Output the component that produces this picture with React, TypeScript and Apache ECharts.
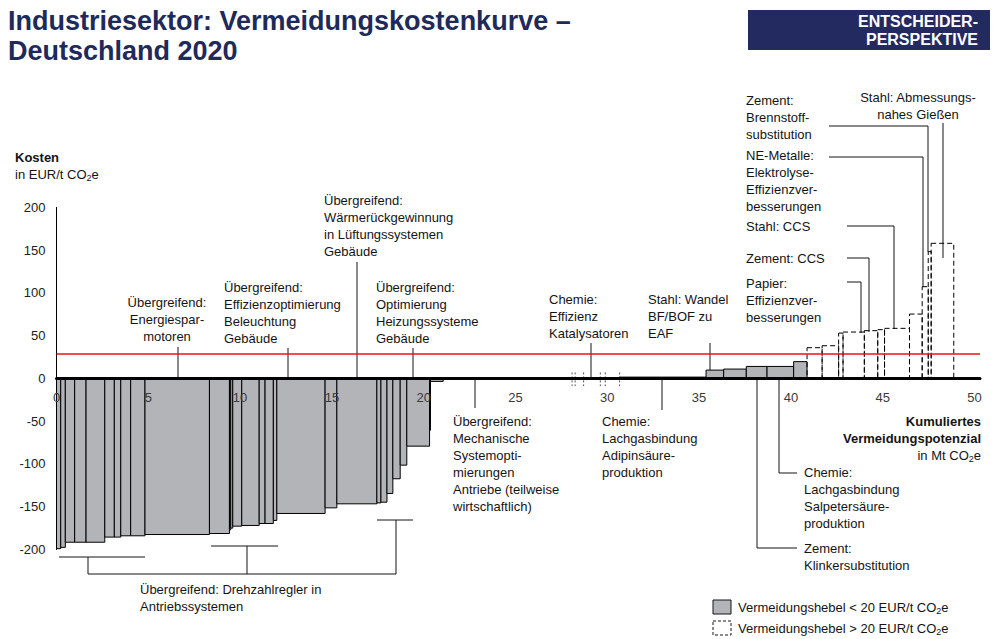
import React, { useEffect, useRef } from "react";
import * as echarts from "echarts";

// ---- Data ----
// Abatement potential of each lever (Mt CO2e), in order along the curve
const leverWidths = [
  0.23, 0.25, 0.51, 0.62, 1.02, 0.52, 0.35, 0.54, 0.78, 3.51, 1.09, 0.07, 0.11, 0.49, 0.95,
  0.32, 0.45, 0.19, 2.63, 0.64, 2.18, 0.22, 0.33, 0.32, 0.4, 0.36, 1.24, 0.05, 0.69,
  9.61,
  4.71, 0.96, 1.23, 1.13, 1.45, 0.73,
  0.82, 0.9, 0.24, 1.16, 0.73, 0.37, 1.36, 0.69, 0.33, 0.16, 1.23,
];
// Abatement cost of each lever (EUR/t CO2e)
const leverCosts = [
  -199, -197.5, -191.5, -191.5, -191.5, -185.5, -185.5, -184, -184, -182.5, -181.3, -177, -175,
  -172.7, -171.9, -169.6, -169.6, -166, -157.9, -151.3, -146.6, -145.5, -144.7, -134.5, -117.3,
  -101.4, -79.2, -60.5, -3.5,
  0,
  1.5, 9.7, 10.9, 14, 14, 19.6,
  35.9, 38.2, 53, 54.2, 55.8, 57, 58.5, 75.2, 107.2, 148.2, 157.9,
];
// Very small levers drawn as short dashed strokes on the axis (Mt CO2e)
const tinyLeverX = [28.08, 28.25, 28.71, 29.62, 29.89, 30.67];
const costThreshold = 20; // legend split: solid < 20, dashed > 20
const redLineCost = 29;
const yTicks = { min: -200, max: 200, step: 50 };
const xTickLabels = [0, 5, 10, 15, 20, 25, 30, 35, 40, 45, 50];

const FONT = "'Liberation Sans', Arial, Helvetica, sans-serif";
const INK = "#141414";
const GREY = "#b2b4b8";

function buildBars() {
  let cum = 0;
  return leverWidths.map((w, i) => {
    const s = cum;
    cum += w;
    return [s, cum, leverCosts[i]];
  });
}

const sub = { fontSize: 9, verticalAlign: "bottom", lineHeight: 11, fontFamily: FONT, fill: INK };

function txt(x: number, firstLineY: number, lines: string[], align = "left", extra: any = {}) {
  return {
    type: "text",
    x,
    y: firstLineY - 8.5,
    silent: true,
    style: {
      text: lines.join("\n"),
      fontSize: 13,
      lineHeight: 17,
      fontFamily: FONT,
      fill: INK,
      align,
      verticalAlign: "top",
      rich: { s: sub },
      ...extra,
    },
  };
}

function ln(pts: number[][], w = 1) {
  return {
    type: "polyline",
    silent: true,
    shape: { points: pts },
    style: { stroke: INK, lineWidth: w, fill: "none" },
  };
}

export default function App() {
  const ref = useRef<HTMLDivElement>(null);
  useEffect(() => {
    if (!ref.current) return;
    const chart = echarts.init(ref.current, undefined, { renderer: "svg" });
    const bars = buildBars();
    const gridLeft = 56.5;
    const unit = 18.36;
    const xMaxShown = 50.3;

    const graphic: any[] = [
      // Title
      {
        type: "text",
        x: 8,
        y: 6,
        silent: true,
        style: {
          text: "Industriesektor: Vermeidungskostenkurve –\nDeutschland 2020",
          fontSize: 27,
          lineHeight: 30,
          fontWeight: "bold",
          fontFamily: FONT,
          fill: "#1e2a5a",
        },
      },
      { type: "rect", shape: { x: 748, y: 10, width: 242, height: 40 }, style: { fill: "#232a5f" } },
      {
        type: "text",
        x: 978,
        y: 12,
        style: {
          text: "ENTSCHEIDER-\nPERSPEKTIVE",
          fontSize: 16,
          lineHeight: 18,
          fontWeight: "bold",
          fontFamily: FONT,
          fill: "#ffffff",
          align: "right",
          verticalAlign: "top",
        },
      },
      // Axis titles
      txt(15, 157, ["Kosten"], "left", { fontWeight: "bold" }),
      txt(15, 174, ["in EUR/t CO{s|2}e"]),
      txt(981, 421, ["Kumuliertes", "Vermeidungspotenzial"], "right", { fontWeight: "bold" }),
      txt(981, 455, ["in Mt CO{s|2}e"], "right"),

      // Top labels
      txt(167, 302, ["Übergreifend:", "Energiespar-", "motoren"], "center"),
      ln([[178, 347], [178, 400]]),
      txt(224, 287, ["Übergreifend:", "Effizienzoptimierung", "Beleuchtung", "Gebäude"]),
      ln([[288, 348], [288, 400]]),
      txt(324, 200, ["Übergreifend:", "Wärmerückgewinnung", "in Lüftungssystemen", "Gebäude"]),
      ln([[357, 262], [357, 400]]),
      txt(376, 287, ["Übergreifend:", "Optimierung", "Heizungssysteme", "Gebäude"]),
      ln([[413, 348], [413, 398]]),
      txt(549, 299, ["Chemie:", "Effizienz", "Katalysatoren"]),
      ln([[591, 343], [591, 378]]),
      txt(648, 299, ["Stahl: Wandel", "BF/BOF zu", "EAF"]),
      ln([[710, 343], [710, 371]]),

      // Upper right labels
      txt(746, 100, ["Zement:", "Brennstoff-", "substitution"]),
      ln([[829, 126], [928, 126], [928, 252]]),
      txt(918, 97, ["Stahl: Abmessungs-", "nahes Gießen"], "center"),
      ln([[943, 123], [943, 258]]),
      txt(746, 155, ["NE-Metalle:", "Elektrolyse-", "Effizienzver-", "besserungen"]),
      ln([[829, 157], [923, 157], [923, 287]]),
      txt(746, 226, ["Stahl: CCS"]),
      ln([[847, 226], [894, 226], [894, 329]]),
      txt(746, 258, ["Zement: CCS"]),
      ln([[847, 258], [869, 258], [869, 332]]),
      txt(746, 283, ["Papier:", "Effizienzver-", "besserungen"]),
      ln([[847, 282], [861, 282], [861, 333]]),

      // Lower labels
      txt(453, 421, [
        "Übergreifend:",
        "Mechanische",
        "Systemopti-",
        "mierungen",
        "Antriebe (teilweise",
        "wirtschaftlich)",
      ]),
      ln([[475, 380], [475, 408]]),
      txt(602, 421, ["Chemie:", "Lachgasbindung", "Adipinsäure-", "produktion"]),
      ln([[662, 380], [662, 410]]),
      txt(804, 472, ["Chemie:", "Lachgasbindung", "Salpetersäure-", "produktion"]),
      ln([[779, 380], [779, 473], [797, 473]]),
      txt(804, 548, ["Zement:", "Klinkersubstitution"]),
      ln([[757, 380], [757, 548], [797, 548]]),

      // Bracket
      txt(140, 589, ["Übergreifend: Drehzahlregler in", "Antriebssystemen"]),
      ln([[59, 557], [145, 557]]),
      ln([[88, 557], [88, 574], [396, 574], [396, 520]]),
      ln([[377, 520], [413, 520]]),
      ln([[211, 546], [278, 546]]),
      ln([[247, 546], [247, 574]]),

      // Legend
      { type: "rect", shape: { x: 713, y: 600, width: 18, height: 14 }, style: { fill: GREY, stroke: INK, lineWidth: 1 } },
      txt(738, 607, ["Vermeidungshebel < 20 EUR/t CO{s|2}e"]),
      {
        type: "rect",
        shape: { x: 713, y: 621, width: 18, height: 14 },
        style: { fill: "none", stroke: INK, lineWidth: 1, lineDash: [3, 2] },
      },
      txt(738, 628, ["Vermeidungshebel > 20 EUR/t CO{s|2}e"]),
    ];

    chart.setOption({
      animation: false,
      grid: {
        left: gridLeft,
        right: 993 - gridLeft - xMaxShown * unit,
        top: 207.3,
        bottom: 89.5,
        containLabel: false,
      },
      xAxis: {
        type: "value",
        min: 0,
        max: xMaxShown,
        interval: 5,
        z: 10,
        axisLine: { onZero: true, lineStyle: { color: "#000", width: 3 } },
        axisTick: { show: false },
        splitLine: { show: false },
        axisLabel: { show: false },
      },
      yAxis: {
        type: "value",
        min: yTicks.min,
        max: yTicks.max,
        interval: yTicks.step,
        axisLine: { show: true, onZero: false, lineStyle: { color: "#000", width: 1 } },
        axisTick: { show: false },
        splitLine: { show: false },
        axisLabel: { margin: 11, fontSize: 13, color: "#222", fontFamily: FONT },
      },
      series: [
        {
          type: "custom",
          name: "levers",
          silent: true,
          data: buildBars(),
          encode: { x: [0, 1], y: 2 },
          renderItem: (params: any, api: any) => {
            const x0 = api.value(0);
            const x1 = api.value(1);
            const c = api.value(2);
            const a = api.coord([x0, 0]);
            const b = api.coord([x1, c]);
            const dashed = c > costThreshold;
            return {
              type: "rect",
              shape: {
                x: a[0],
                y: Math.min(a[1], b[1]),
                width: Math.max(b[0] - a[0], 0.5),
                height: Math.abs(b[1] - a[1]),
              },
              style: {
                fill: dashed ? "none" : GREY,
                stroke: "#000",
                lineWidth: 1,
                lineDash: dashed ? [5, 3] : null,
              },
            };
          },
          markLine: {
            silent: true,
            symbol: "none",
            label: { show: false },
            lineStyle: { color: "#ee1111", width: 1.5, type: "solid" },
            data: [{ yAxis: redLineCost }],
          },
        },
        {
          type: "custom",
          name: "tiny",
          silent: true,
          data: tinyLeverX.map((x) => [x]),
          renderItem: (params: any, api: any) => {
            const x = api.value(0);
            const a = api.coord([x, 7]);
            const b = api.coord([x, -9]);
            return {
              type: "line",
              shape: { x1: a[0], y1: a[1], x2: b[0], y2: b[1] },
              style: { stroke: "#555", lineWidth: 1, lineDash: [2, 2] },
            };
          },
        },
        {
          type: "custom",
          name: "xlabels",
          silent: true,
          z: 20,
          data: xTickLabels.map((v) => [v, 0]),
          renderItem: (params: any, api: any) => {
            const v = api.value(0);
            const p = api.coord([v, 0]);
            return {
              type: "text",
              x: p[0],
              y: p[1] + 19.5,
              style: {
                text: String(v),
                fontSize: 13,
                fontFamily: FONT,
                fill: "#3a3a3a",
                align: "center",
                verticalAlign: "middle",
                textAlign: "center",
                textVerticalAlign: "middle",
              },
            };
          },
        },
      ],
      graphic,
    });
    void bars;
    return () => chart.dispose();
  }, []);

  return (
    <div
      ref={ref}
      style={{ position: "fixed", left: 0, top: 0, width: 993, height: 639, background: "#fff" }}
    />
  );
}
